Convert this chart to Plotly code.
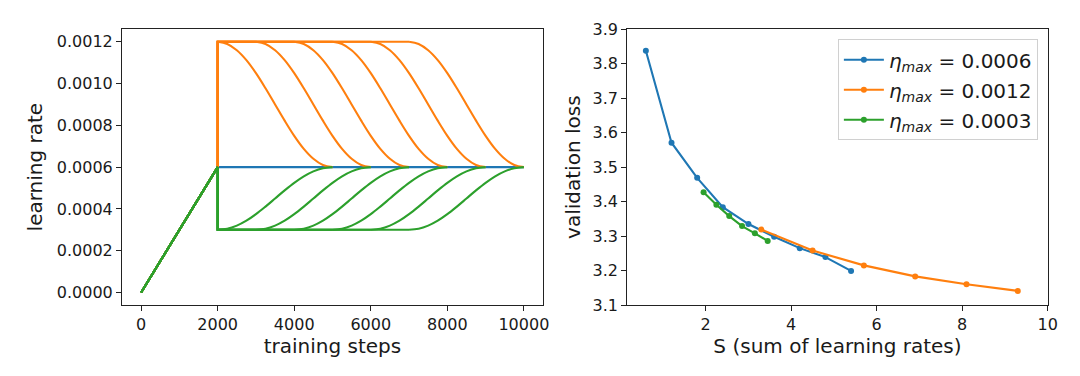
import plotly.graph_objects as go

# ---------------- data ----------------
# Left panel: learning-rate schedules
WARMUP_STEPS = 2000
BASE_LR = 0.0006
PEAK_LR_HIGH = 0.0012
PEAK_LR_LOW = 0.0003
TOTAL_STEPS = 10000
END_STEPS = [5000, 6000, 7000, 8000, 9000, 10000]
TRANSITION_LEN = 3000
# normalised shape of the smooth transition (13 samples)
TRANSITION_PROFILE = [0, 0.017, 0.067, 0.146, 0.25, 0.371, 0.5, 0.629, 0.75, 0.854, 0.933, 0.983, 1.0]

LEFT_XTICKS = [0, 2000, 4000, 6000, 8000, 10000]
LEFT_XTICKTEXT = ["0", "2000", "4000", "6000", "8000", "10000"]
LEFT_YTICKS = [0.0, 0.0002, 0.0004, 0.0006, 0.0008, 0.0010, 0.0012]

# Right panel: validation loss vs S
S_06 = [0.6, 1.2, 1.8, 2.4, 3.0, 3.6, 4.2, 4.8, 5.4]
L_06 = [3.838, 3.571, 3.469, 3.384, 3.335, 3.298, 3.265, 3.239, 3.199]
S_12 = [3.3, 4.5, 5.7, 6.9, 8.1, 9.3]
L_12 = [3.319, 3.258, 3.215, 3.183, 3.160, 3.141]
S_03 = [1.95, 2.25, 2.55, 2.85, 3.15, 3.45]
L_03 = [3.427, 3.391, 3.358, 3.329, 3.308, 3.286]

RIGHT_XTICKS = [2, 4, 6, 8, 10]
RIGHT_YTICKS = [3.1, 3.2, 3.3, 3.4, 3.5, 3.6, 3.7, 3.8, 3.9]

LEGEND_LABELS = [
    "<i>η</i><sub><i>max</i></sub> = 0.0006",
    "<i>η</i><sub><i>max</i></sub> = 0.0012",
    "<i>η</i><sub><i>max</i></sub> = 0.0003",
]

C0, C1, C2 = "#1f77b4", "#ff7f0e", "#2ca02c"
FONT = "DejaVu Sans"
LW = 2.1

fig = go.Figure()

# ---------------- left panel ----------------
fig.add_trace(go.Scatter(
    x=[0, WARMUP_STEPS, TOTAL_STEPS], y=[0, BASE_LR, BASE_LR],
    mode="lines", line=dict(color=C0, width=LW), showlegend=False,
    xaxis="x", yaxis="y", hoverinfo="skip"))


def add_schedule(peak, color):
    for end in END_STEPS:
        start = end - TRANSITION_LEN
        fig.add_trace(go.Scatter(
            x=[0, WARMUP_STEPS, WARMUP_STEPS, start],
            y=[0, BASE_LR, peak, peak],
            mode="lines", line=dict(color=color, width=LW), showlegend=False,
            xaxis="x", yaxis="y", hoverinfo="skip"))
        n = len(TRANSITION_PROFILE) - 1
        xs = [start + TRANSITION_LEN * k / n for k in range(n + 1)]
        ys = [peak + (BASE_LR - peak) * p for p in TRANSITION_PROFILE]
        fig.add_trace(go.Scatter(
            x=xs, y=ys, mode="lines",
            line=dict(color=color, width=LW, shape="spline"), showlegend=False,
            xaxis="x", yaxis="y", hoverinfo="skip"))


add_schedule(PEAK_LR_HIGH, C1)
add_schedule(PEAK_LR_LOW, C2)

# ---------------- right panel ----------------
for s, l, c, name in [(S_06, L_06, C0, LEGEND_LABELS[0]),
                      (S_12, L_12, C1, LEGEND_LABELS[1]),
                      (S_03, L_03, C2, LEGEND_LABELS[2])]:
    fig.add_trace(go.Scatter(
        x=s, y=l, mode="lines+markers", name=name, legendgroup=name,
        line=dict(color=c, width=LW), marker=dict(color=c, size=6),
        xaxis="x2", yaxis="y2"))

axis_common = dict(
    showline=True, mirror=True, linecolor="#222222", linewidth=1.1,
    ticks="outside", ticklen=5, tickwidth=1.1, tickcolor="#222222",
    showgrid=False, zeroline=False, automargin=False,
    tickfont=dict(family=FONT, size=16, color="#1a1a1a"),
)

YDOM = [0.1888, 0.9221]

fig.update_layout(
    width=1080, height=376,
    margin=dict(l=0, r=0, t=0, b=0, pad=0),
    paper_bgcolor="white", plot_bgcolor="white",
    font=dict(family=FONT, color="#1a1a1a"),
    xaxis=dict(domain=[0.11296, 0.50278], range=[-500, 10500], anchor="y",
               tickvals=LEFT_XTICKS, ticktext=LEFT_XTICKTEXT,
               title=dict(text="training steps", font=dict(size=20), standoff=4),
               **axis_common),
    yaxis=dict(domain=YDOM, range=[-0.00006, 0.00126], anchor="x",
               tickvals=LEFT_YTICKS, tickformat=".4f",
               title=dict(text="learning rate", font=dict(size=20), standoff=8),
               **axis_common),
    xaxis2=dict(domain=[0.5808, 0.9701], range=[0.165, 10], anchor="y2",
                tickvals=RIGHT_XTICKS,
                title=dict(text="S (sum of learning rates)", font=dict(size=20), standoff=4),
                **axis_common),
    yaxis2=dict(domain=YDOM, range=[3.1, 3.9], anchor="x2",
                tickvals=RIGHT_YTICKS, tickformat=".1f",
                title=dict(text="validation loss", font=dict(size=20), standoff=6),
                **axis_common),
    legend=dict(x=0.961, y=0.8955, xanchor="right", yanchor="top",
                bgcolor="rgba(255,255,255,0.8)", bordercolor="#d0d0d0", borderwidth=1,
                font=dict(family=FONT, size=20, color="#1a1a1a"),
                itemwidth=40, tracegroupgap=1),
    showlegend=True,
)

fig.write_html("out.html",
               config={"displayModeBar": False},
               post_script="document.body.style.margin='0';document.body.style.overflow='hidden';")
